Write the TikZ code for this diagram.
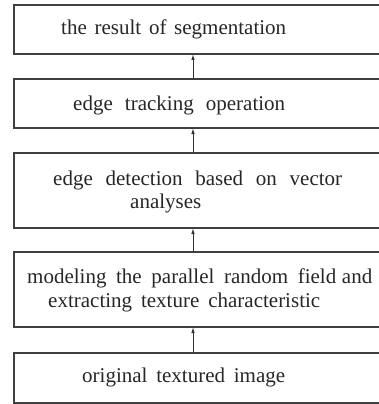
\documentclass[tikz,border=0pt]{standalone}
\usepackage{fontspec}
\setmainfont{Liberation Serif}
\usetikzlibrary{arrows.meta}
\begin{document}
\begin{tikzpicture}[x=1pt,y=-1pt,
  box/.style={draw=black!75,line width=1.1pt},
  txt/.style={anchor=base west,inner sep=0pt,font=\fontsize{21}{24}\selectfont,text=black!85},
  conn/.style={draw=black!80,line width=1pt,-{Latex[length=6pt,width=3.5pt]}}]
\useasboundingbox (0,0) rectangle (379,404);
\draw[box] (14,5) rectangle (390,54);
\draw[box] (14,79) rectangle (390,128);
\draw[box] (14,153) rectangle (390,228);
\draw[box] (14,252) rectangle (390,327);
\draw[box] (14,353) rectangle (390,403);
\coordinate (b1) at (193,54);
\coordinate (t2) at (193,79);
\coordinate (b2) at (193,128);
\coordinate (t3) at (193,153);
\coordinate (b3) at (193,228);
\coordinate (t4) at (193,252);
\coordinate (b4) at (193,327);
\coordinate (t5) at (193,353);
\node[txt] (l1) at (61,35) {\makebox[225pt][s]{the result of segmentation}};
\node[txt] (l2) at (73,110) {\makebox[212pt][s]{edge tracking operation}};
\node[txt] (l3a) at (53,185) {\makebox[289pt][s]{edge detection based on vector}};
\node[txt] (l3b) at (130,208) {analyses};
\node[txt] (l4a) at (27,283) {\makebox[345pt][s]{modeling the parallel random field\hspace{-4pt} and}};
\node[txt] (l4b) at (48,307) {\makebox[272pt][s]{extracting texture characteristic}};
\node[txt] (l5) at (82,382) {\makebox[203pt][s]{original textured image}};
\draw[conn] (t2) -- (b1);
\draw[conn] (t3) -- (b2);
\draw[conn] (t4) -- (b3);
\draw[conn] (t5) -- (b4);
\end{tikzpicture}
\end{document}
